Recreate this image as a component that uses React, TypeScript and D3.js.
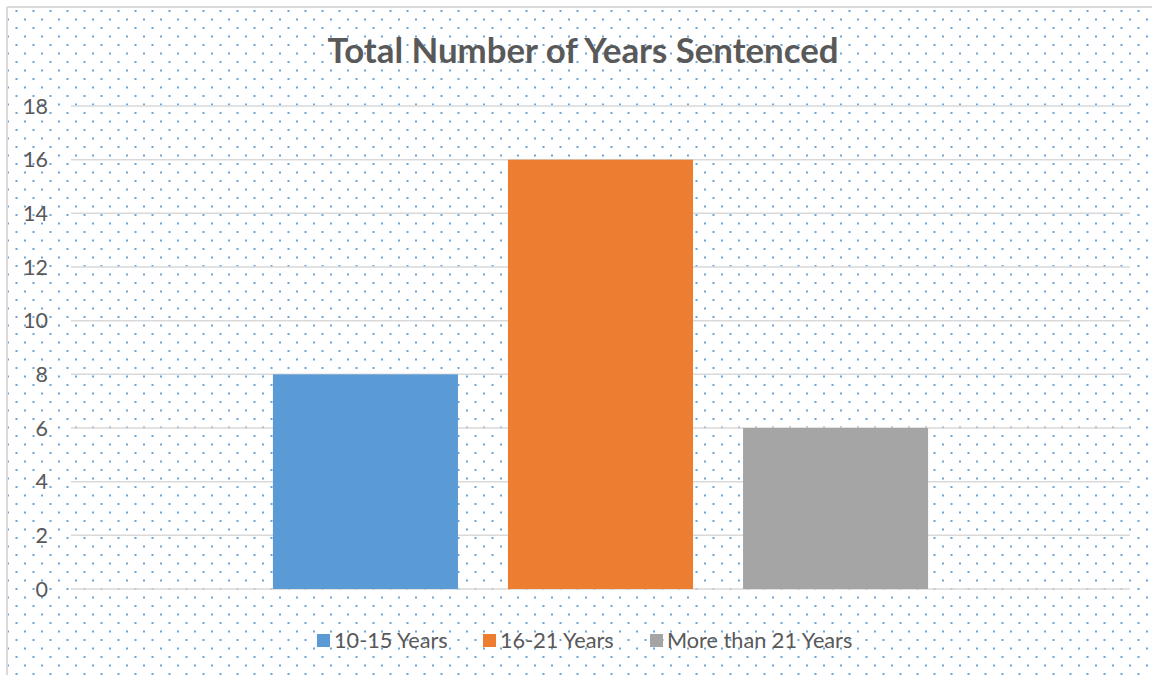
import React from "react";
import * as d3 from "d3";

const title = "Total Number of Years Sentenced";
const seriesNames = ["10-15 Years", "16-21 Years", "More than 21 Years"];
const seriesValues = [8, 16, 6];
const seriesColors = ["#5b9bd5", "#ed7d31", "#a5a5a5"];
const yTicks = [0, 2, 4, 6, 8, 10, 12, 14, 16, 18];

const W = 1152;
const H = 675;
const plot = { left: 71, right: 1130, top: 106, bottom: 589 };
const FONT = "Lato, 'Open Sans', sans-serif";
const TEXT = "#595959";

export default function App() {
  const y = d3.scaleLinear().domain([0, 18]).range([plot.bottom, plot.top]);
  const x = d3
    .scaleBand<string>()
    .domain(seriesNames)
    .range([plot.left, plot.right])
    .paddingInner(0.2128)
    .paddingOuter(0.859);

  const legendItems = [
    { name: seriesNames[0], color: seriesColors[0], sx: 317, tx: 334 },
    { name: seriesNames[1], color: seriesColors[1], sx: 483, tx: 500 },
    { name: seriesNames[2], color: seriesColors[2], sx: 650, tx: 667 },
  ];

  return (
    <svg
      width={W}
      height={H}
      style={{ position: "absolute", left: 0, top: 0, background: "#fff" }}
    >
      <defs>
        <pattern id="dots" patternUnits="userSpaceOnUse" x={7} y={1} width={17} height={17}>
          <rect x={8.5} y={9} width={2} height={2} fill="#5b9bd5" />
          <rect x={0} y={0.5} width={2} height={2} fill="#5b9bd5" />
        </pattern>
      </defs>
      <rect x={7} y={7} width={W} height={H} fill="#fff" />
      <rect x={7} y={7} width={W} height={H} fill="url(#dots)" opacity={0.9} />
      <line x1={7} y1={7} x2={W} y2={7} stroke="#d9d9d9" strokeWidth={2} />
      <line x1={7} y1={7} x2={7} y2={H} stroke="#d9d9d9" strokeWidth={2} />

      <text
        x={583}
        y={63}
        textAnchor="middle"
        fontFamily={FONT}
        fontWeight="bold"
        fontSize={34.8}
        fill={TEXT}
      >
        {title}
      </text>

      {yTicks.map((t) => (
        <g key={t}>
          <line
            x1={plot.left}
            x2={plot.right}
            y1={y(t)}
            y2={y(t)}
            stroke="#d9d9d9"
            strokeWidth={1.5}
          />
          <text
            x={48}
            y={y(t) + 7.5}
            textAnchor="end"
            fontFamily={FONT}
            fontSize={21.5}
            fill={TEXT}
          >
            {t}
          </text>
        </g>
      ))}

      {seriesNames.map((s, i) => (
        <rect
          key={s}
          x={x(s)}
          y={y(seriesValues[i])}
          width={x.bandwidth()}
          height={y(0) - y(seriesValues[i])}
          fill={seriesColors[i]}
        />
      ))}

      {legendItems.map((d) => (
        <g key={d.name}>
          <rect x={d.sx} y={634} width={13} height={13} fill={d.color} />
          <text x={d.tx} y={647.5} fontFamily={FONT} fontSize={21.7} fill={TEXT}>
            {d.name}
          </text>
        </g>
      ))}
    </svg>
  );
}
